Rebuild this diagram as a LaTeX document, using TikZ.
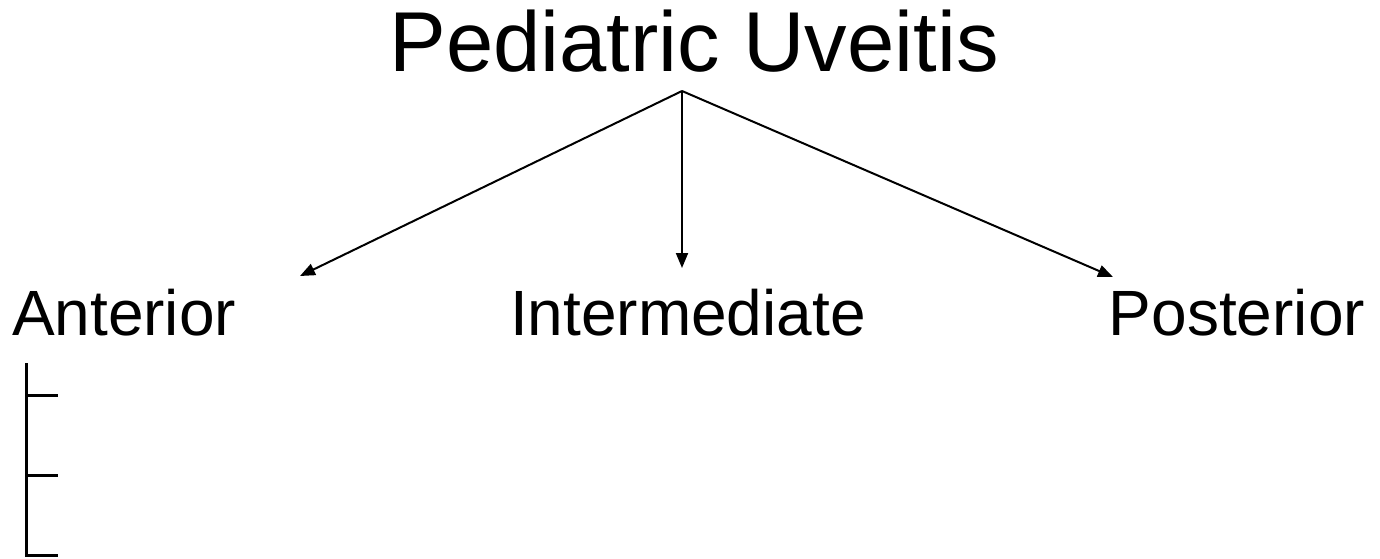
\documentclass[tikz,border=0pt]{standalone}
\usepackage{fontspec}
\setmainfont{Liberation Sans}
\usetikzlibrary{arrows.meta}

\begin{document}
\begin{tikzpicture}[x=0.5pt, y=-0.5pt, >={Triangle[length=7.5pt, width=6pt]}, line width=1pt]
    % coordinates are in pixels of the 1380x558 sheet, origin top-left
    \tikzset{
        title/.style={font=\fontsize{42.5}{50}\selectfont, inner sep=0pt},
        branch/.style={font=\fontsize{32}{38}\selectfont, inner sep=0pt},
        tick/.style={line width=1.5pt}
    }
    \useasboundingbox (0, 0) rectangle (1380, 558);

    % --- Title ---
    \node[title, anchor=base] (uveitis) at (694, 71) {Pediatric Uveitis};

    % --- Branch labels ---
    \node[branch, anchor=base west] (anterior) at (11, 335) {Anterior};
    \node[branch, anchor=base west] (intermediate) at (509, 335) {Intermediate};
    \node[branch, anchor=base east] (posterior) at (1366, 335) {Posterior};

    % --- Arrow ends ---
    \coordinate (root) at (682, 91);
    \coordinate (antTip) at (300, 276);
    \coordinate (intTip) at (682, 268);
    \coordinate (postTip) at (1113, 277);

    \draw[->] (root) -- (antTip);
    \draw[->] (root) -- (intTip);
    \draw[->] (root) -- (postTip);

    % --- Bracket below Anterior ---
    \draw[tick] (26, 363) -- (26, 555) -- (58, 555);
    \draw[tick] (26, 395) -- (58, 395);
    \draw[tick] (26, 475) -- (58, 475);

\end{tikzpicture}
\end{document}
